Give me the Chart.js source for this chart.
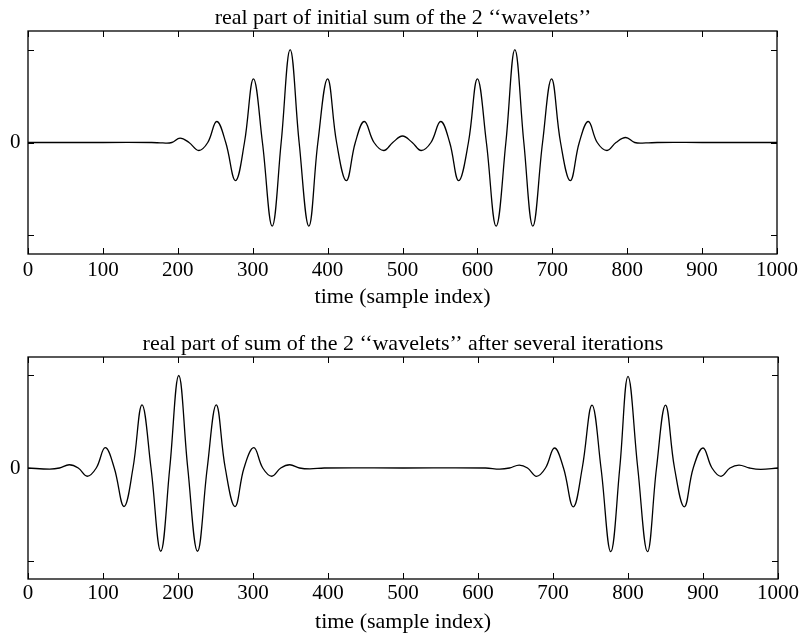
<!DOCTYPE html>
<html>
<head>
<meta charset="utf-8">
<script src="https://cdn.jsdelivr.net/npm/chart.js@4.4.1/dist/chart.umd.min.js"></script>
<style>
  html, body { margin: 0; padding: 0; background: #fff; }
  .panel { position: absolute; left: 0; width: 802px; height: 320px; }
  #top-panel { top: 0; }
  #bottom-panel { top: 320px; }
</style>
</head>
<body>
<div class="panel" id="top-panel"><canvas id="top-chart" width="802" height="320"></canvas></div>
<div class="panel" id="bottom-panel"><canvas id="bottom-chart" width="802" height="320"></canvas></div>
<script>
const xTicks = [0, 100, 200, 300, 400, 500, 600, 700, 800, 900, 1000];
const yTicks = [-1, 0, 1];

const topTitle = 'real part of initial sum of the 2 \u2018\u2018wavelets\u2019\u2019';
const bottomTitle = 'real part of sum of the 2 \u2018\u2018wavelets\u2019\u2019 after several iterations';
const xAxisTitle = 'time (sample index)';

// initial sum: two packets centred near 350 and 650
const topX = [0, 100, 165, 180, 192, 203, 215, 228, 240, 252, 264, 277, 289, 301, 313, 326, 338, 350, 362, 375,
    387, 400, 412, 425, 437, 449, 462, 475, 487, 500, 513, 525, 538, 551, 563, 575, 588, 600, 612, 625,
    638, 650, 662, 674, 687, 699, 711, 724, 736, 748, 760, 773, 785, 798, 810, 825, 840, 900, 1000];
const topY = [0, 0, 0, -0.005, 0, 0.047, 0, -0.086, 0, 0.226, 0, -0.41, 0, 0.685, 0, -0.90, 0, 1.0, 0, -0.90,
    0, 0.685, 0, -0.41, 0, 0.226, 0, -0.086, 0, 0.07, 0, -0.086, 0, 0.226, 0, -0.41, 0, 0.685, 0, -0.90,
    0, 1.0, 0, -0.90, 0, 0.685, 0, -0.41, 0, 0.226, 0, -0.086, 0, 0.054, 0, -0.005, 0, 0, 0];

// after iterations: packets moved out to about 200 and 800
const bottomX = [0, 29, 42, 55, 67, 79, 91, 103, 115, 128, 140, 152, 164, 177, 189, 201, 213, 226, 239, 251,
    263, 276, 288, 301, 313, 325, 337, 349, 362, 376, 395, 500, 610, 629, 642, 655, 666, 678, 690, 702,
    714, 727, 739, 752, 764, 777, 789, 800, 813, 826, 838, 850, 862, 875, 887, 900, 912, 924, 936, 948,
    962, 977, 1000];
const bottomY = [0, -0.012, 0, 0.035, 0, -0.089, 0, 0.22, 0, -0.416, 0, 0.683, 0, -0.90, 0, 1.0, 0, -0.90, 0, 0.683,
    0, -0.416, 0, 0.22, 0, -0.089, 0, 0.035, 0, -0.01, 0, 0, 0, -0.012, 0, 0.032, 0, -0.09, 0, 0.216,
    0, -0.42, 0, 0.68, 0, -0.905, 0, 0.99, 0, -0.905, 0, 0.68, 0, -0.42, 0, 0.216, 0, -0.09, 0, 0.032,
    0, -0.015, 0];

const serif = "'Liberation Serif', 'Times New Roman', serif";

// box round the plot area, with short ticks pointing inwards on all four sides
const frame = {
    id: 'frame',
    afterDatasetsDraw(chart) {
        const { ctx, chartArea: a, scales: { x, y } } = chart;
        const len = 6;
        ctx.save();
        ctx.strokeStyle = '#000';
        ctx.lineWidth = 1.3;
        ctx.strokeRect(a.left, a.top, a.right - a.left, a.bottom - a.top);
        ctx.beginPath();
        x.ticks.forEach(t => {
            const px = Math.round(x.getPixelForValue(t.value)) + 0.5;
            ctx.moveTo(px, a.bottom); ctx.lineTo(px, a.bottom - len);
            ctx.moveTo(px, a.top); ctx.lineTo(px, a.top + len);
        });
        y.ticks.forEach(t => {
            const py = Math.round(y.getPixelForValue(t.value)) + 0.5;
            ctx.moveTo(a.left, py); ctx.lineTo(a.left + len, py);
            ctx.moveTo(a.right, py); ctx.lineTo(a.right - len, py);
        });
        ctx.lineWidth = 1;
        ctx.stroke();
        ctx.restore();
    }
};

function makeChart(id, title, xs, ys, pad) {
    const ctx = document.getElementById(id).getContext('2d');
    return new Chart(ctx, {
        type: 'line',
        data: {
            datasets: [{
                data: xs.map((x, i) => ({ x: x, y: ys[i] })),
                borderColor: '#000',
                borderWidth: 1.3,
                pointRadius: 0,
                tension: 0.4,
                fill: false
            }]
        },
        options: {
            responsive: false,
            animation: false,
            devicePixelRatio: 1,
            // left padding keeps the title centred over the box; the y label hangs into it
            layout: { padding: { left: 28, right: 24, top: 0, bottom: 0 } },
            scales: {
                x: {
                    type: 'linear',
                    min: 0,
                    max: 1000,
                    afterBuildTicks: s => { s.ticks = xTicks.map(v => ({ value: v })); },
                    afterFit: s => { s.height = pad.axisHeight; },
                    grid: { display: false, drawTicks: false },
                    border: { display: false },
                    ticks: {
                        color: '#000',
                        padding: pad.tick,
                        maxRotation: 0,
                        autoSkip: false,
                        font: { family: serif, size: 21 },
                        callback: v => String(v)
                    },
                    title: {
                        display: true,
                        text: xAxisTitle,
                        color: '#000',
                        font: { family: serif, size: 22 },
                        padding: { top: 0, bottom: pad.axisBottom }
                    }
                },
                y: {
                    min: -1.2,
                    max: 1.2,
                    afterBuildTicks: s => { s.ticks = yTicks.map(v => ({ value: v })); },
                    afterFit: s => { s.width = 0; },
                    grid: { display: false, drawTicks: false },
                    border: { display: false },
                    ticks: {
                        color: '#000',
                        mirror: true,
                        padding: -18,
                        font: { family: serif, size: 21 },
                        callback: v => (v === 0 ? '0' : '')
                    }
                }
            },
            plugins: {
                legend: { display: false },
                tooltip: { enabled: false },
                title: {
                    display: true,
                    text: title,
                    color: '#000',
                    font: { family: serif, size: 22, weight: 'normal', lineHeight: 1 },
                    padding: { top: pad.titleTop, bottom: pad.titleBottom }
                }
            }
        },
        plugins: [frame]
    });
}

makeChart('top-chart', topTitle, topX, topY, { titleTop: 7, titleBottom: 2, axisHeight: 66, tick: 4, axisBottom: 10 });
makeChart('bottom-chart', bottomTitle, bottomX, bottomY, { titleTop: 13, titleBottom: 2, axisHeight: 61, tick: 2, axisBottom: 5 });
</script>
</body>
</html>
